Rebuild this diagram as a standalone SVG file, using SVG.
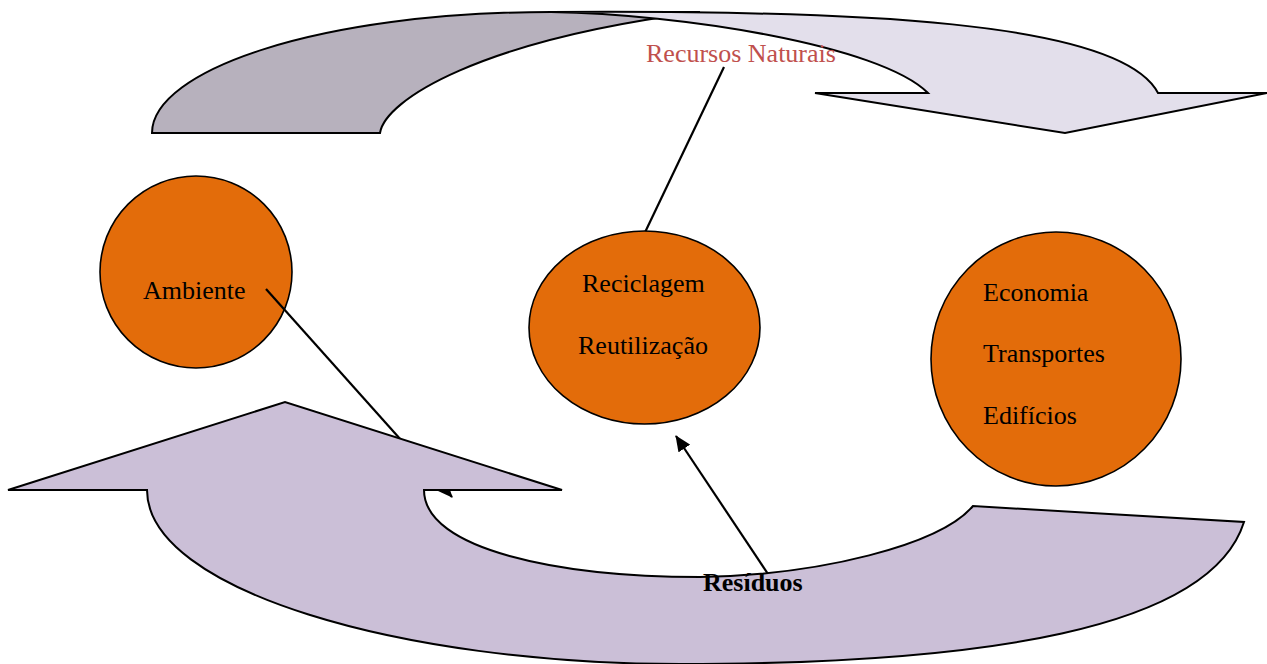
<svg xmlns="http://www.w3.org/2000/svg" width="1267" height="664" viewBox="0 0 1267 664">
<style>
.node{fill:#e36c0a;stroke:#000;stroke-width:1.6}
.txt{font-family:"Liberation Serif","Times New Roman",serif;font-size:26px;fill:#000}
.shape{stroke:#000;stroke-width:2;stroke-linejoin:miter}
.conn{stroke:#000;stroke-width:2.2;fill:none}
</style>
<defs>
<marker id="ah" viewBox="0 0 16 14" refX="15" refY="7" markerWidth="16" markerHeight="14" markerUnits="userSpaceOnUse" orient="auto">
<path d="M0,0 L16,7 L0,14 Z" fill="#000"/>
</marker>
</defs>
<rect width="1267" height="664" fill="#fff"/>
<g id="top-arrow">
<path class="shape" fill="#b7b1bd" d="M152,133 C152,70 320,12 551,12 L700,12 C480,40 385,100 380,133 Z"/>
<path class="shape" fill="#e3dfeb" d="M551,12 C850,10 1120,20 1158,93 L1267,93 L1065,133 L815,93 L928,93 C880,45 680,14 551,12 Z"/>
<text x="646" y="62" class="txt" style="fill:#c0504d">Recursos Naturais</text>
</g>
<g id="node-ambiente">
<circle class="node" cx="196" cy="272" r="96"/>
<text x="143" y="299" class="txt">Ambiente</text>
</g>
<g id="connectors">
<line class="conn" x1="724" y1="67" x2="638" y2="247" marker-end="url(#ah)"/>
<line class="conn" x1="266" y1="289" x2="452" y2="497" marker-end="url(#ah)"/>
<line class="conn" x1="772" y1="580" x2="676" y2="436" marker-end="url(#ah)"/>
</g>
<g id="node-reciclagem">
<ellipse class="node" cx="644.5" cy="327.5" rx="115.5" ry="96.5"/>
<text x="582" y="292" class="txt">Reciclagem</text>
<text x="578" y="354" class="txt">Reutilização</text>
</g>
<g id="node-economia">
<ellipse class="node" cx="1056" cy="359" rx="125" ry="127"/>
<text x="983" y="301" class="txt">Economia</text>
<text x="983" y="362" class="txt">Transportes</text>
<text x="983" y="424" class="txt">Edifícios</text>
</g>
<g id="bottom-arrow">
<path class="shape" fill="#cbbfd7" d="M424,490 C424,550 560,577 700,577 C820,575 940,545 973,506 L1244,522 C1210,630 980,664 680,664 C400,664 147,590 147,490 L8,490 L285,402 L562,490 Z"/>
<text x="703" y="591" class="txt" style="font-weight:bold">Resíduos</text>
</g>
</svg>
